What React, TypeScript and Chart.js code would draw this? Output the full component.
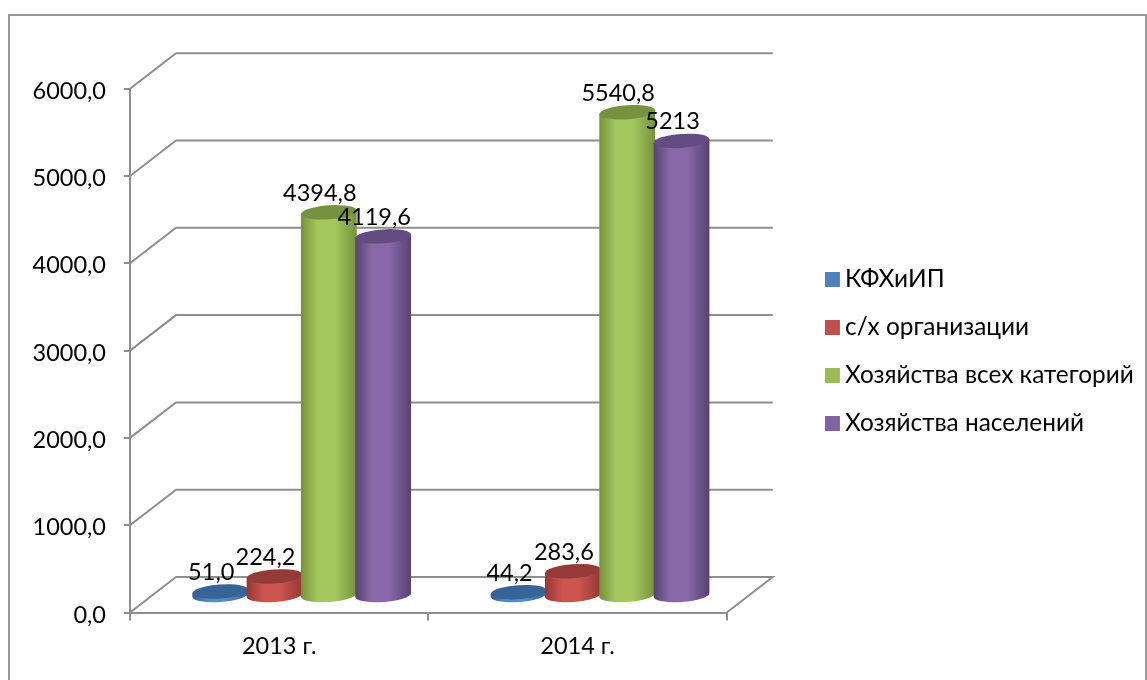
import React, { useEffect, useRef } from "react";
import { Chart, registerables } from "chart.js";

Chart.register(...registerables);

const categories = ["2013 г.", "2014 г."];
const seriesNames = ["КФХиИП", "с/х организации", "Хозяйства всех категорий", "Хозяйства населений"];
const kfhValues = [51.0, 44.2];
const orgValues = [224.2, 283.6];
const allValues = [4394.8, 5540.8];
const popValues = [4119.6, 5213];
const kfhLabels = ["51,0", "44,2"];
const orgLabels = ["224,2", "283,6"];
const allLabels = ["4394,8", "5540,8"];
const popLabels = ["4119,6", "5213"];

const FONT = "Lato, Carlito, 'Open Sans', sans-serif";
const FS = 23.5;
const LEGEND_FS = 24.4;
const AXIS = "#8e8e8e";
const DEPTH_X = 46;
const DEPTH_Y = 35.5;
const BAR_DX = 22.5;
const BAR_DY = 16.5;

const swatch = ["#4f81bd", "#c0504d", "#9bbb59", "#8064a2"];
const edge = ["#36608f", "#943735", "#76923c", "#58436f"];
const mid = ["#558bcc", "#cc5451", "#a5c85e", "#8868a9"];
const cap = ["#386396", "#953a38", "#76923f", "#644c83"];

function makeSwatch(color: string) {
  const c = document.createElement("canvas");
  c.width = 30;
  c.height = 15;
  const g = c.getContext("2d")!;
  g.fillStyle = color;
  g.fillRect(9, 0, 15, 15);
  return c;
}

const cylinderPlugin = {
  id: "cylinder3d",
  afterLayout(chart: any) {
    // The built-in legend keeps its drawing; it is only given room beyond the layout's width cap.
    const l = chart.legend;
    l.maxWidth = 420;
    l.maxHeight = 680;
    l.fit();
    l.left = 805.3;
    l.right = 1147;
    l.top = 243.7;
    l.bottom = 680;
    l.width = l.right - l.left;
    l.height = l.bottom - l.top;
    l.adjustHitBoxes();
  },
  beforeDraw(chart: any) {
    const { ctx } = chart;
    ctx.save();
    ctx.strokeStyle = AXIS;
    ctx.lineWidth = 1.8;
    ctx.strokeRect(9, 15, 1137, 700);
    ctx.restore();
  },
  beforeDatasetsDraw(chart: any) {
    const { ctx, chartArea, scales } = chart;
    ctx.save();
    ctx.strokeStyle = AXIS;
    ctx.lineWidth = 2;
    for (const t of scales.y.ticks) {
      const y = scales.y.getPixelForValue(t.value);
      ctx.beginPath();
      ctx.moveTo(chartArea.left, y);
      ctx.lineTo(chartArea.left + DEPTH_X, y - DEPTH_Y);
      ctx.lineTo(chartArea.right + DEPTH_X, y - DEPTH_Y);
      if (t.value === 0) ctx.lineTo(chartArea.right, y);
      ctx.stroke();
    }
    ctx.restore();
  },
  beforeDatasetDraw() {
    return false;
  },
  afterDatasetsDraw(chart: any) {
    const { ctx } = chart;
    const tilt = (-4 * Math.PI) / 180;
    const ry = 7;
    const texts: [string, number, number][] = [];
    chart.data.datasets.forEach((ds: any, i: number) => {
      chart.getDatasetMeta(i).data.forEach((el: any, j: number) => {
        const cx = el.x + BAR_DX;
        const rx = (el.width * 1.03) / 2;
        const top = el.y - BAR_DY;
        const bottom = el.base - BAR_DY;
        const dx = rx * Math.cos(tilt);
        const dy = rx * Math.sin(tilt);
        const g = ctx.createLinearGradient(cx - dx, 0, cx + dx, 0);
        g.addColorStop(0, edge[i]);
        g.addColorStop(0.3, mid[i]);
        g.addColorStop(0.6, mid[i]);
        g.addColorStop(1, edge[i]);
        ctx.save();
        ctx.fillStyle = g;
        ctx.beginPath();
        ctx.moveTo(cx - dx, top - dy);
        ctx.lineTo(cx - dx, bottom - dy);
        ctx.ellipse(cx, bottom, rx, ry, tilt, Math.PI, 0, true);
        ctx.lineTo(cx + dx, top + dy);
        ctx.closePath();
        ctx.fill();
        ctx.fillStyle = cap[i];
        ctx.beginPath();
        ctx.ellipse(cx, top, rx, ry, tilt, 0, Math.PI * 2);
        ctx.fill();
        ctx.restore();
        texts.push([ds.valueLabels[j], cx - 9, top - 19]);
      });
    });
    ctx.save();
    ctx.fillStyle = "#000";
    ctx.font = `${FS}px ${FONT}`;
    ctx.textAlign = "center";
    ctx.textBaseline = "middle";
    for (const [s, x, y] of texts) ctx.fillText(s, x, y);
    ctx.restore();
  },
};

export default function App() {
  const ref = useRef<HTMLCanvasElement>(null);
  useEffect(() => {
    const values = [kfhValues, orgValues, allValues, popValues];
    const labels = [kfhLabels, orgLabels, allLabels, popLabels];
    const chart = new Chart(ref.current!, {
      type: "bar",
      data: {
        labels: categories,
        datasets: seriesNames.map((name, i) => ({
          label: name,
          data: values[i],
          valueLabels: labels[i],
          backgroundColor: swatch[i],
          categoryPercentage: 0.728,
          barPercentage: 1,
        })) as any,
      },
      plugins: [cylinderPlugin as any],
      options: {
        animation: false,
        responsive: false,
        layout: { padding: { left: 0, right: 178, top: 88.7, bottom: 0 } },
        plugins: {
          tooltip: { enabled: false },
          legend: {
            position: "right",
            align: "start",
            labels: {
              usePointStyle: true,
              boxWidth: 4,
              padding: 23.6,
              color: "#000",
              font: { family: FONT, size: LEGEND_FS },
              generateLabels(c: any) {
                const base = Chart.defaults.plugins.legend.labels.generateLabels(c);
                return base.map((it: any, i: number) => ({ ...it, pointStyle: makeSwatch(swatch[i]) }));
              },
            },
          },
        },
        scales: {
          x: {
            position: "bottom",
            afterFit(s: any) { s.height = 67.5; },
            grid: { drawOnChartArea: false, drawTicks: true, tickLength: 8, color: AXIS, lineWidth: 2 },
            border: { color: AXIS, width: 2 },
            ticks: { color: "#000", font: { family: FONT, size: FS }, padding: 12, maxRotation: 0 },
          },
          y: {
            position: "left",
            min: 0,
            max: 6000,
            afterFit(s: any) { s.width = 130; },
            grid: { drawOnChartArea: false, drawTicks: true, tickLength: 6, color: AXIS, lineWidth: 2 },
            border: { color: AXIS, width: 2 },
            ticks: {
              stepSize: 1000,
              color: "#000",
              padding: 18,
              labelOffset: 2.5,
              font: { family: FONT, size: FS },
              callback: (v: any) => Number(v).toFixed(1).replace(".", ","),
            },
          },
        },
      } as any,
    });
    return () => chart.destroy();
  }, []);
  return (
    <div style={{ position: "fixed", left: 0, top: 0, width: 1147, height: 680, background: "#fff" }}>
      <canvas ref={ref} width={1147} height={680} style={{ display: "block" }} />
    </div>
  );
}
